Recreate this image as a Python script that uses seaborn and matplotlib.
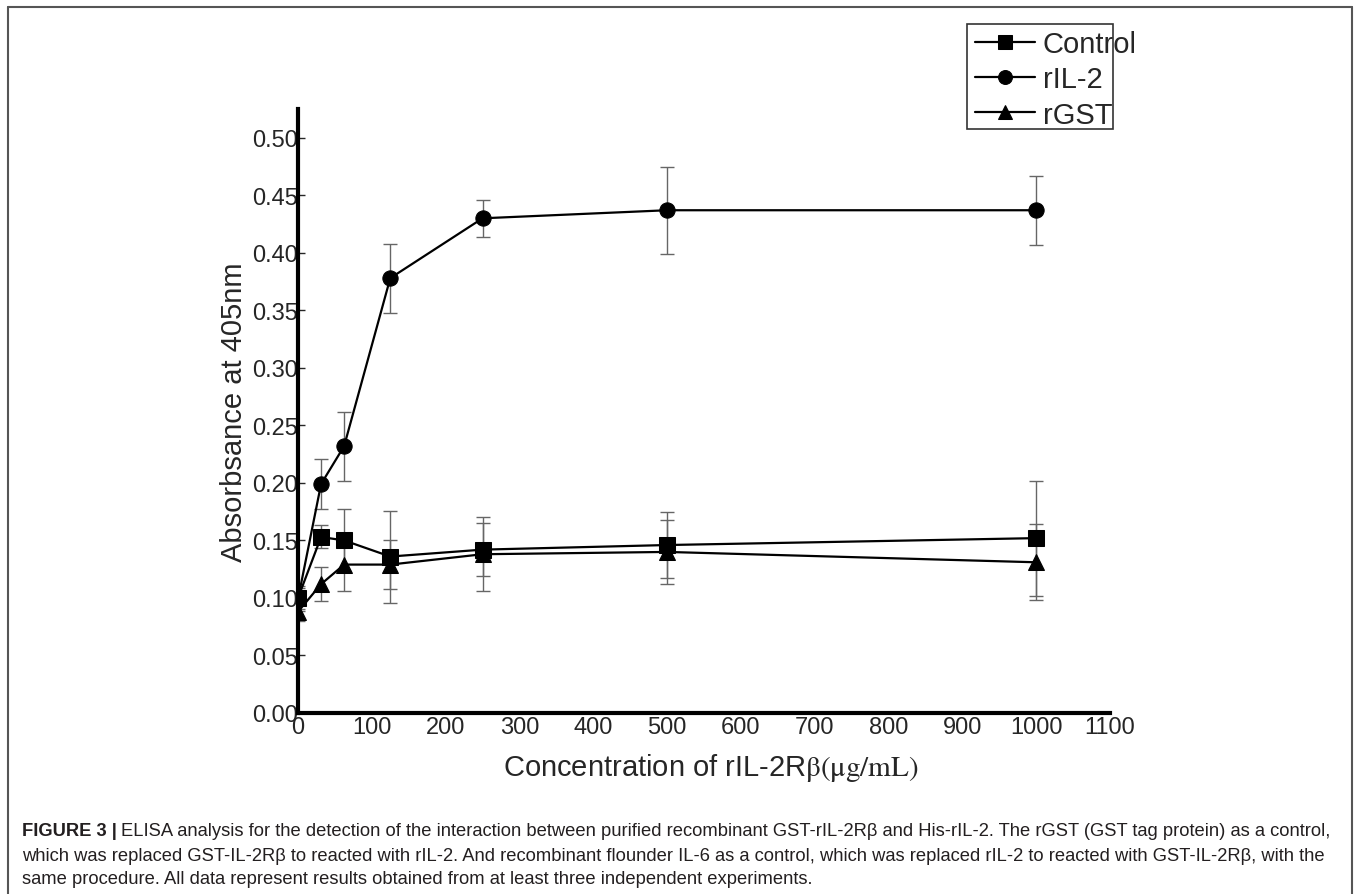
import matplotlib.pyplot as plt
import numpy as np
import pandas as pd
import seaborn as sns
from matplotlib.lines import Line2D
from matplotlib.patches import Rectangle

# concentrations of rIL-2Rbeta (ug/mL)
conc = [0, 31.25, 62.5, 125, 250, 500, 1000]

series_names = ['Control', 'rIL-2', 'rGST']
control = [0.100, 0.153, 0.150, 0.136, 0.142, 0.146, 0.152]
control_sd = [0.010, 0.010, 0.027, 0.040, 0.023, 0.029, 0.050]
ril2 = [0.099, 0.199, 0.232, 0.378, 0.430, 0.437, 0.437]
ril2_sd = [0.010, 0.022, 0.030, 0.030, 0.016, 0.038, 0.030]
rgst = [0.088, 0.112, 0.129, 0.129, 0.138, 0.140, 0.131]
rgst_sd = [0.008, 0.015, 0.023, 0.021, 0.032, 0.028, 0.033]

x_ticks = list(range(0, 1101, 100))
y_ticks = [0.00, 0.05, 0.10, 0.15, 0.20, 0.25, 0.30, 0.35, 0.40, 0.45, 0.50]

caption_lines = [
    'ELISA analysis for the detection of the interaction between purified recombinant GST-rIL-2R\u03b2 and His-rIL-2. The rGST (GST tag protein) as a control,',
    'which was replaced GST-IL-2R\u03b2 to reacted with rIL-2. And recombinant flounder IL-6 as a control, which was replaced rIL-2 to reacted with GST-IL-2R\u03b2, with the',
    'same procedure. All data represent results obtained from at least three independent experiments.',
]

df = pd.DataFrame({
    'conc': conc * 3,
    'value': control + ril2 + rgst,
    'sd': control_sd + ril2_sd + rgst_sd,
    'series': [s for s in series_names for _ in conc],
})

sns.set_style('ticks')
plt.rcParams['font.family'] = ['Liberation Sans', 'DejaVu Sans']
plt.rcParams['mathtext.fontset'] = 'stix'

W, H = 1360, 895
fig = plt.figure(figsize=(W / 100, H / 100), dpi=100)
ax = fig.add_axes([298 / W, 1 - 714 / H, (1110 - 298) / W, (714 - 110) / H])

# error bars first so the markers sit on top
for name in series_names:
    sub = df[df['series'] == name]
    ax.errorbar(sub['conc'], sub['value'], yerr=sub['sd'], fmt='none',
                ecolor='#666666', elinewidth=1.0, capsize=5, capthick=1.0, zorder=2)

sns.lineplot(data=df, x='conc', y='value', hue='series', style='series',
             palette={s: 'black' for s in series_names},
             markers={'Control': 's', 'rIL-2': 'o', 'rGST': '^'},
             dashes=False, markersize=11, markeredgecolor='black',
             linewidth=1.6, ax=ax, zorder=3)

ax.set_xlim(0, 1100)
ax.set_ylim(0, 0.525)
ax.set_xticks(x_ticks)
ax.set_yticks(y_ticks)
ax.set_yticklabels(['{:.2f}'.format(v) for v in y_ticks])
ax.tick_params(axis='y', direction='in', length=5, width=1, pad=0, labelsize=17)
ax.tick_params(axis='x', length=0, pad=2, labelsize=17)

for side in ['top', 'right']:
    ax.spines[side].set_visible(False)
for side in ['left', 'bottom']:
    ax.spines[side].set_linewidth(3)
    ax.spines[side].set_color('black')

ax.set_xlabel('Concentration of rIL-2R$\\mathrm{\\beta(\\mu g/mL)}$', fontsize=21)
ax.xaxis.set_label_coords(0.508, -0.063)
ax.set_ylabel('Absorbsance at 405nm', fontsize=21, labelpad=3)

# legend: text is allowed to run over the box, as in the original
handles, labels = ax.get_legend_handles_labels()
for h in handles:
    h.set_markersize(10)
ax.legend(handles, labels, loc='upper left',
          bbox_to_anchor=(975 / W, 1 - 31 / H), bbox_transform=fig.transFigure,
          fontsize=21, frameon=False, handlelength=2.05,
          handletextpad=0.27, labelspacing=0.25, borderpad=0, borderaxespad=0)
fig.add_artist(Rectangle((967 / W, 1 - 130 / H), 146 / W, 105 / H,
                         transform=fig.transFigure, fill=False,
                         edgecolor='#333333', linewidth=1.2))

# outer frame around the figure panel
frame_kw = dict(color='#555555', linewidth=1.5)
fig.add_artist(Line2D([8 / W, 8 / W], [0, 1 - 8 / H], **frame_kw))
fig.add_artist(Line2D([8 / W, 1352 / W], [1 - 8 / H, 1 - 8 / H], **frame_kw))
fig.add_artist(Line2D([1352 / W, 1352 / W], [0, 1 - 8 / H], **frame_kw))

# caption
cap_font = ['Liberation Sans', 'DejaVu Sans']
cap_size = 13.25
cap_y = [1 - 832 / H, 1 - 857 / H, 1 - 880 / H]
x0 = 22 / W
bold = fig.text(x0, cap_y[0], 'FIGURE 3 |', fontsize=cap_size, fontweight='bold',
                family=cap_font, color='#231f20', va='center')
fig.canvas.draw()
bb = bold.get_window_extent(renderer=fig.canvas.get_renderer())
x1 = (bb.x1 + 4) / fig.bbox.width
fig.text(x1, cap_y[0], caption_lines[0], fontsize=cap_size, family=cap_font,
         color='#231f20', va='center')
for line, y in zip(caption_lines[1:], cap_y[1:]):
    fig.text(x0, y, line, fontsize=cap_size, family=cap_font, color='#231f20', va='center')

fig.savefig('out.png', dpi=100)
